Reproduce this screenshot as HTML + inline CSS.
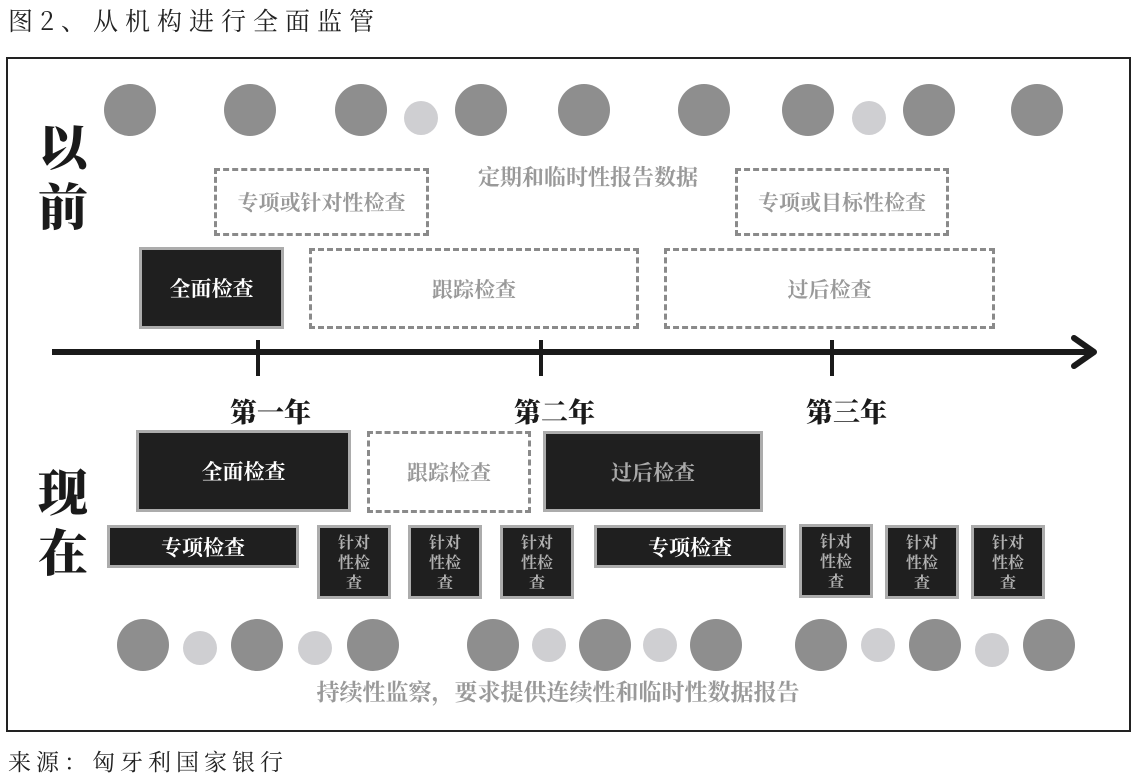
<!DOCTYPE html>
<html><head><meta charset="utf-8"><style>
*{margin:0;padding:0;box-sizing:border-box}
body{width:1136px;height:782px;background:#fff;position:relative;overflow:hidden;font-family:"Liberation Serif","Noto Serif CJK SC",serif}
.a{position:absolute}
.c{position:absolute;border-radius:50%}
.L{background:#8e8e8e;width:52px;height:52px}
.S{background:#cfcfd2;width:34px;height:34px}
.box{position:absolute;display:flex;align-items:center;justify-content:center;text-align:center;font-weight:bold;font-family:"Noto Serif CJK SC",serif}
.dk{background:#1f1f1f;border:3px solid #acacac;color:#fff;font-size:21px}
.ds{border:3px dashed #8a8a8a;color:#999;font-size:21px;background:#fff}
.sm{background:#1f1f1f;border:3px solid #acacac;color:#b0b0b0;font-size:16px;line-height:20px;width:74px;height:74px}
.big{position:absolute;font-family:"Noto Serif CJK SC",serif;font-weight:900;font-size:50px;color:#1a1a1a;line-height:60px}
.yr{position:absolute;font-family:"Noto Serif CJK SC",serif;font-weight:900;font-size:27px;color:#1a1a1a}
</style></head><body>
<div class="a" style="left:8px;top:2px;font-size:25px;letter-spacing:7px;color:#222;font-family:'Noto Serif CJK SC',serif">图2、从机构进行全面监管</div>
<div class="a" style="left:6px;top:57px;width:1125px;height:675px;border:2px solid #222"></div>

<div class="c L" style="left:104px;top:84px"></div>
<div class="c L" style="left:224px;top:84px"></div>
<div class="c L" style="left:335px;top:84px"></div>
<div class="c S" style="left:404px;top:101px"></div>
<div class="c L" style="left:455px;top:84px"></div>
<div class="c L" style="left:558px;top:84px"></div>
<div class="c L" style="left:678px;top:84px"></div>
<div class="c L" style="left:782px;top:84px"></div>
<div class="c S" style="left:852px;top:101px"></div>
<div class="c L" style="left:903px;top:84px"></div>
<div class="c L" style="left:1011px;top:84px"></div>

<div class="big" style="left:38px;top:114px">以</div>
<div class="big" style="left:38px;top:174px">前</div>
<div class="big" style="left:38px;top:460px">现</div>
<div class="big" style="left:38px;top:520px">在</div>

<div class="a" style="left:458px;top:161px;width:260px;text-align:center;font-family:'Noto Serif CJK SC',serif;font-weight:bold;font-size:22px;color:#999">定期和临时性报告数据</div>

<div class="box ds" style="left:214px;top:168px;width:215px;height:68px">专项或针对性检查</div>
<div class="box ds" style="left:735px;top:168px;width:214px;height:68px">专项或目标性检查</div>
<div class="box dk" style="left:139px;top:247px;width:145px;height:82px">全面检查</div>
<div class="box ds" style="left:309px;top:248px;width:330px;height:81px">跟踪检查</div>
<div class="box ds" style="left:664px;top:248px;width:331px;height:81px">过后检查</div>

<div class="a" style="left:52px;top:349px;width:1038px;height:6px;background:#1a1a1a"></div>
<svg class="a" style="left:1068px;top:334px" width="34" height="36"><polyline points="6,4 26,18 6,32" fill="none" stroke="#1a1a1a" stroke-width="6" stroke-linecap="round" stroke-linejoin="round"/></svg>
<div class="a" style="left:256px;top:340px;width:4px;height:36px;background:#1a1a1a"></div>
<div class="a" style="left:539px;top:340px;width:4px;height:36px;background:#1a1a1a"></div>
<div class="a" style="left:830px;top:340px;width:4px;height:36px;background:#1a1a1a"></div>
<div class="yr" style="left:230px;top:391px">第一年</div>
<div class="yr" style="left:514px;top:391px">第二年</div>
<div class="yr" style="left:806px;top:391px">第三年</div>

<div class="box dk" style="left:136px;top:430px;width:215px;height:82px">全面检查</div>
<div class="box ds" style="left:367px;top:431px;width:164px;height:82px">跟踪检查</div>
<div class="box dk" style="left:543px;top:431px;width:220px;height:81px;color:#aaa">过后检查</div>
<div class="box dk" style="left:107px;top:525px;width:192px;height:43px">专项检查</div>
<div class="box dk" style="left:594px;top:525px;width:192px;height:43px">专项检查</div>
<div class="box sm" style="left:317px;top:525px">针对<br>性检<br>查</div>
<div class="box sm" style="left:408px;top:525px">针对<br>性检<br>查</div>
<div class="box sm" style="left:500px;top:525px">针对<br>性检<br>查</div>
<div class="box sm" style="left:799px;top:524px">针对<br>性检<br>查</div>
<div class="box sm" style="left:885px;top:525px">针对<br>性检<br>查</div>
<div class="box sm" style="left:971px;top:525px">针对<br>性检<br>查</div>

<div class="c L" style="left:117px;top:619px"></div>
<div class="c S" style="left:183px;top:631px"></div>
<div class="c L" style="left:231px;top:619px"></div>
<div class="c S" style="left:298px;top:631px"></div>
<div class="c L" style="left:347px;top:619px"></div>
<div class="c L" style="left:467px;top:619px"></div>
<div class="c S" style="left:532px;top:628px"></div>
<div class="c L" style="left:579px;top:619px"></div>
<div class="c S" style="left:643px;top:628px"></div>
<div class="c L" style="left:690px;top:619px"></div>
<div class="c L" style="left:795px;top:619px"></div>
<div class="c S" style="left:861px;top:628px"></div>
<div class="c L" style="left:909px;top:619px"></div>
<div class="c S" style="left:975px;top:633px"></div>
<div class="c L" style="left:1023px;top:619px"></div>

<div class="a" style="left:290px;top:674px;width:536px;text-align:center;font-family:'Noto Serif CJK SC',serif;font-weight:bold;font-size:23px;color:#999">持续性监察，要求提供连续性和临时性数据报告</div>

<div class="a" style="left:8px;top:744px;font-size:23px;letter-spacing:5px;color:#222;font-family:'Noto Serif CJK SC',serif">来源：匈牙利国家银行</div>
</body></html>
